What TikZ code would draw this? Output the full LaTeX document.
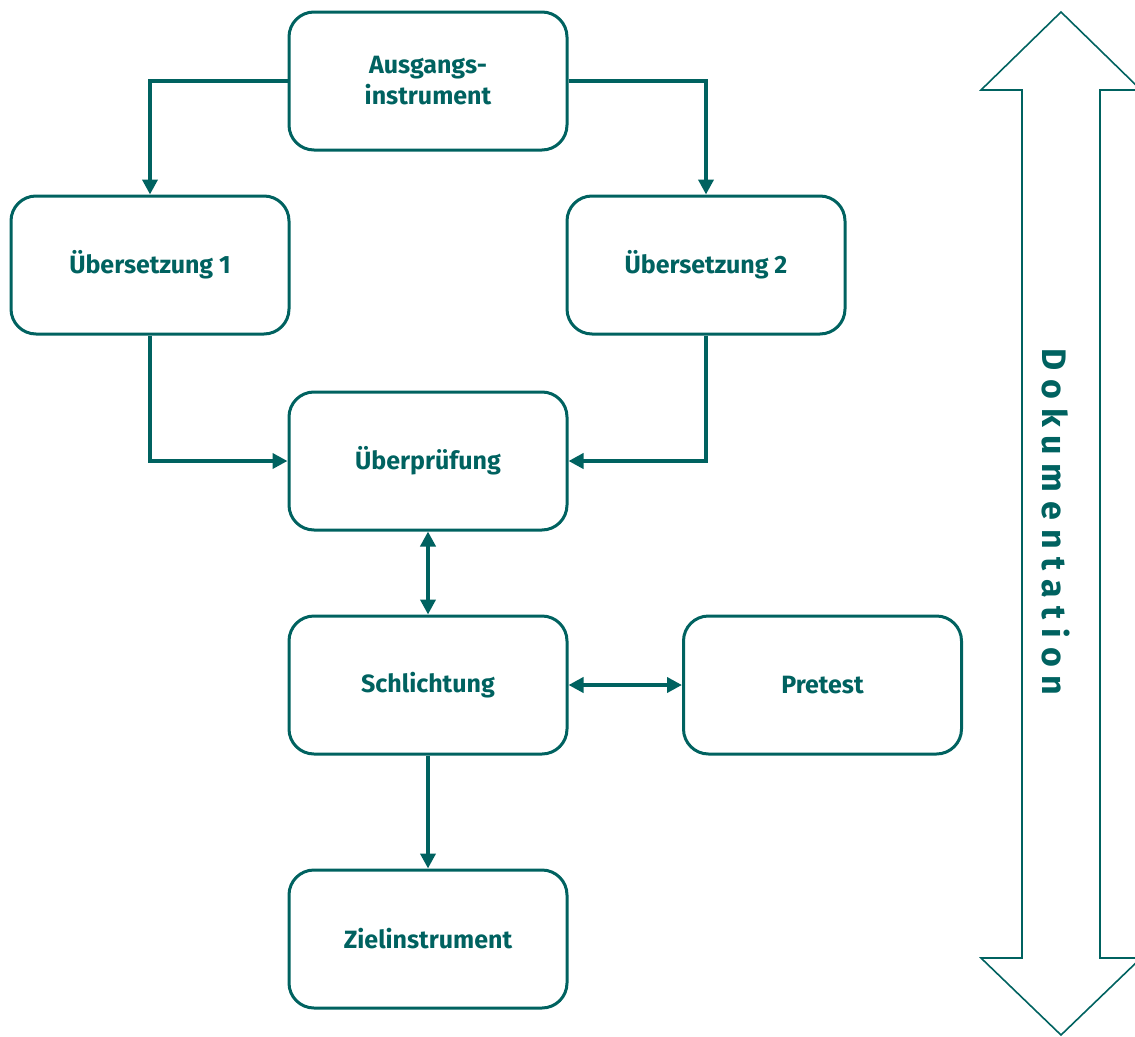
\documentclass[tikz,border=0pt]{standalone}
\usepackage{fontspec}
\setmainfont{Fira Sans}
\usetikzlibrary{arrows.meta}
\definecolor{teal}{RGB}{0,98,96}
\tikzset{
  stage/.style={draw=teal, line width=3pt, rounded corners=25pt, minimum width=278pt, minimum height=138pt,
    align=center, text=teal, font=\fontsize{25}{31}\selectfont\bfseries, inner sep=0pt},
  conn/.style={draw=teal, line width=4pt, -{Triangle[length=15pt,width=15pt]}},
  conn2/.style={draw=teal, line width=4pt, {Triangle[length=15pt,width=15pt]}-{Triangle[length=15pt,width=15pt]}},
}
\begin{document}
\begin{tikzpicture}[x=1pt,y=-1pt]
\useasboundingbox (0,0) rectangle (1135,1036);
\node[stage] (A) at (428,81) {Ausgangs-\\instrument};
\node[stage] (U1) at (150,265) {Übersetzung 1};
\node[stage] (U2) at (706,265) {Übersetzung 2};
\node[stage] (P) at (428,461) {Überprüfung};
\node[stage] (S) at (428,685) {Schlichtung};
\node[stage] (T) at (822.5,685) {Pretest};
\node[stage] (Z) at (428,939) {Zielinstrument};
\draw[conn] (A.west) -| (U1.north);
\draw[conn] (A.east) -| (U2.north);
\draw[conn] (U1.south) |- (P.west);
\draw[conn] (U2.south) |- (P.east);
\draw[conn2] (P.south) -- (S.north);
\draw[conn2] (S.east) -- (T.west);
\draw[conn] (S.south) -- (Z.north);
\draw[teal, line width=1.6pt, line join=miter]
  (1061,12) -- (1141,90) -- (1100,90) -- (1100,958) -- (1141,958) -- (1061,1035)
  -- (981,958) -- (1022,958) -- (1022,90) -- (981,90) -- cycle;
\node[rotate=-90, text=teal, font=\fontsize{34}{36}\selectfont\bfseries\addfontfeature{LetterSpace=26}] (D) at (1056,522) {Dokumentation};
\end{tikzpicture}
\end{document}
